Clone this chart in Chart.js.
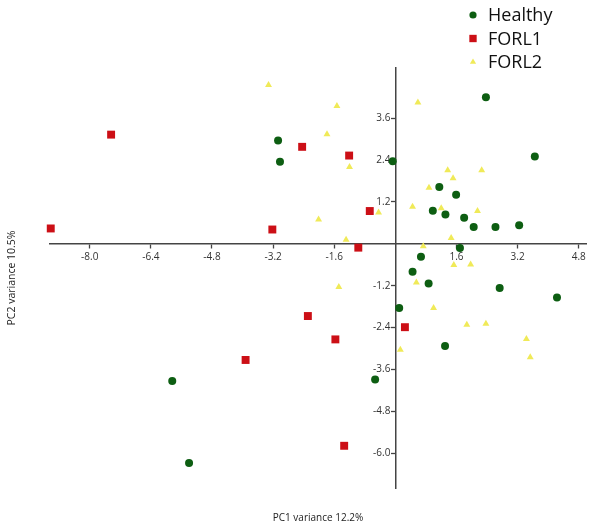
<!DOCTYPE html>
<html>
<head>
<meta charset="utf-8">
<script src="https://cdn.jsdelivr.net/npm/chart.js@4.4.1/dist/chart.umd.min.js"></script>
<style>
    html, body { margin: 0; padding: 0; background: #fff; }
    #wrap { width: 592px; height: 527px; }
</style>
</head>
<body>
<div id="wrap"><canvas id="grafico"></canvas></div>
<script>
// PCA scores
const healthyX = [-3.07, -3.02, 2.37, 3.65, -0.07, 1.15, 1.59, 0.98, 1.31, 1.80, 2.05, 2.62, 3.24, 1.69, 0.67, 0.45, 0.87, 2.73, 4.23, 0.10, 1.30, -0.53, -5.84, -5.40];
const healthyY = [2.96, 2.35, 4.20, 2.50, 2.37, 1.63, 1.41, 0.95, 0.84, 0.75, 0.48, 0.48, 0.53, -0.12, -0.37, -0.80, -1.14, -1.27, -1.54, -1.84, -2.93, -3.89, -3.93, -6.28];

const forl1X = [-7.44, -9.02, -3.22, -2.44, -1.21, -0.67, -0.97, -2.29, -1.57, 0.25, -1.34, -3.92];
const forl1Y = [3.13, 0.44, 0.41, 2.78, 2.53, 0.94, -0.11, -2.07, -2.74, -2.39, -5.79, -3.33];

const forl2X = [-3.32, -1.53, 0.59, -1.79, -1.20, 1.37, 2.26, 1.51, 0.88, 0.45, 1.20, 2.15, -0.44, -2.01, -1.29, 1.46, 0.73, 1.53, 1.97, -1.48, 0.55, 1.00, 1.87, 2.37, 3.43, 3.53, 0.13];
const forl2Y = [4.55, 3.95, 4.05, 3.14, 2.20, 2.11, 2.11, 1.88, 1.61, 1.06, 1.02, 0.94, 0.90, 0.70, 0.12, 0.17, -0.07, -0.61, -0.59, -1.24, -1.11, -1.84, -2.32, -2.29, -2.73, -3.25, -3.04];

const groupLabels = ['Healthy', 'FORL1', 'FORL2'];
const xTicks = [-8.0, -6.4, -4.8, -3.2, -1.6, 1.6, 3.2, 4.8];
const yTicks = [-6.0, -4.8, -3.6, -2.4, -1.2, 1.2, 2.4, 3.6];
const xTitle = 'PC1 variance 12.2%';
const yTitle = 'PC2 variance 10.5%';

const verde = '#0d5e12';
const vermelho = '#cc0f16';
const amarelo = '#f0ea58';

const pares = (xs, ys) => xs.map((x, i) => ({ x: x, y: ys[i] }));

// legenda empilhada no canto superior direito
const legendaPilha = {
    id: 'legendaPilha',
    afterDraw(chart) {
        const ctx = chart.ctx;
        ctx.save();
        ctx.font = '18px "Open Sans", sans-serif';
        ctx.textBaseline = 'middle';
        ctx.textAlign = 'left';
        chart.data.datasets.forEach((ds, i) => {
            const x = chart.width - 119;
            const y = 15 + i * 23.5;
            ctx.fillStyle = ds.backgroundColor;
            Chart.helpers.drawPoint(ctx, {
                pointStyle: ds.pointStyle,
                radius: ds.pointStyle === 'rect' ? 5.2 : 3.6,
                rotation: 0,
                borderWidth: 0
            }, x, y);
            ctx.fillStyle = '#111';
            ctx.fillText(ds.label, x + 15, y + 1);
        });
        ctx.restore();
    }
};

const eixo = (ticks, min, max, pos, fmt, pad) => ({
    type: 'linear',
    position: pos,
    min: min,
    max: max,
    afterBuildTicks: (s) => { s.ticks = ticks.map(v => ({ value: v })); },
    ticks: {
        callback: fmt,
        font: { family: '"Open Sans", sans-serif', size: 10 },
        color: '#333',
        autoSkip: false,
        maxRotation: 0,
        padding: pad
    },
    grid: {
        drawOnChartArea: false,
        drawTicks: true,
        tickLength: 4,
        tickWidth: 1.3,
        tickColor: '#444'
    },
    border: { color: '#444', width: 1.5 }
});

const ctx = document.getElementById('grafico').getContext('2d');
const grafico = new Chart(ctx, {
    type: 'scatter',
    data: {
        datasets: [{
            label: groupLabels[0],
            data: pares(healthyX, healthyY),
            pointStyle: 'circle',
            pointRadius: 4,
            backgroundColor: verde,
            borderColor: verde,
            borderWidth: 0,
            clip: false
        },
        {
            label: groupLabels[1],
            data: pares(forl1X, forl1Y),
            pointStyle: 'rect',
            pointRadius: 5.6,
            backgroundColor: vermelho,
            borderColor: vermelho,
            borderWidth: 0,
            clip: false
        },
        {
            label: groupLabels[2],
            data: pares(forl2X, forl2Y),
            pointStyle: 'triangle',
            pointRadius: 4,
            backgroundColor: amarelo,
            borderColor: amarelo,
            borderWidth: 0,
            clip: false
        }]
    },
    options: {
        responsive: true,
        maintainAspectRatio: false,
        animation: false,
        layout: { padding: { top: 68, right: 2, left: 0, bottom: 0 } },
        scales: {
            x: eixo(xTicks, -9.05, 5.0, { y: 0 }, (v) => v.toFixed(1), 3),
            // rótulos do eixo y ficam à esquerda da marca
            y: eixo(yTicks, -7.0, 5.04, { x: 0 }, (v) => v.toFixed(1) + '\u2002', 1)
        },
        plugins: {
            legend: { display: false },
            tooltip: { enabled: false },
            title: {
                display: true,
                text: xTitle,
                position: 'bottom',
                fullSize: false,
                color: '#222',
                font: { family: '"Open Sans", sans-serif', size: 10, weight: 'normal', lineHeight: 1.2 },
                padding: { top: 24, bottom: 3 }
            },
            subtitle: {
                display: true,
                text: yTitle,
                position: 'left',
                fullSize: false,
                color: '#222',
                font: { family: '"Open Sans", sans-serif', size: 10.5, weight: 'normal', lineHeight: 1.2 },
                padding: { top: 6, bottom: 31 }
            }
        }
    },
    plugins: [legendaPilha]
});
</script>
</body>
</html>
